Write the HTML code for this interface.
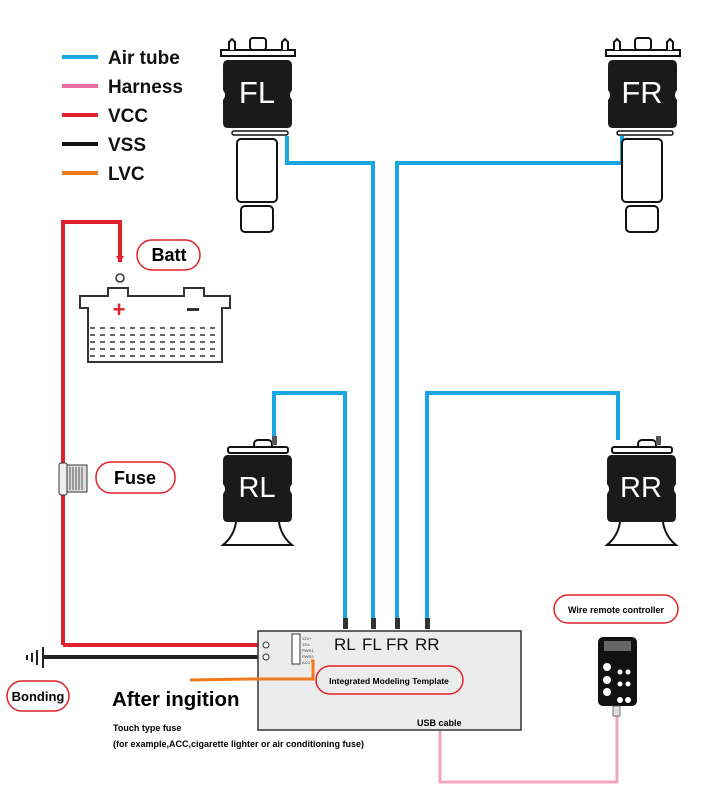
<!DOCTYPE html>
<html><head><meta charset="utf-8"><style>
html,body{margin:0;padding:0;background:#fff}
svg{display:block}
text{font-family:"Liberation Sans",Arial,sans-serif}
</style></head><body>
<svg width="703" height="799" viewBox="0 0 703 799" xmlns="http://www.w3.org/2000/svg">
<!-- legend -->
<g stroke-width="4">
<line x1="62" y1="57" x2="98" y2="57" stroke="#1aa6e0"/>
<line x1="62" y1="86" x2="98" y2="86" stroke="#ee6fa8"/>
<line x1="62" y1="115" x2="98" y2="115" stroke="#e0202a"/>
<line x1="62" y1="144" x2="98" y2="144" stroke="#111"/>
<line x1="62" y1="173" x2="98" y2="173" stroke="#f07a1a"/>
</g>
<g font-weight="bold" font-size="19" fill="#111">
<text x="108" y="64">Air tube</text><text x="108" y="93">Harness</text>
<text x="108" y="122">VCC</text><text x="108" y="151">VSS</text><text x="108" y="180">LVC</text>
</g>

<!-- air tubes -->
<g fill="none" stroke="#1aa6e0" stroke-width="4">
<path d="M287 136 V163 H373 V622"/>
<path d="M622 136 V163 H397 V622"/>
<path d="M274 440 V393 H345 V622"/>
<path d="M618 440 V393 H427 V622"/>
</g>

<!-- front struts -->
<g id="fl">
<rect x="221" y="50" width="74" height="6" fill="#fff" stroke="#111" stroke-width="2"/>
<rect x="250" y="38" width="16" height="12" rx="3" fill="#fff" stroke="#111" stroke-width="2"/>
<path d="M229 50 V42 l3 -3 l3 3 V50 M282 50 V42 l3 -3 l3 3 V50" fill="#fff" stroke="#111" stroke-width="2"/>
<path d="M228 60 H287 Q292 60 292 66 V90 Q288 95 292 100 V123 Q292 128 287 128 H228 Q223 128 223 123 V100 Q227 95 223 90 V66 Q223 60 228 60 Z" fill="#1a1a1a"/>
<rect x="232" y="131" width="56" height="4" rx="2" fill="#fff" stroke="#111" stroke-width="1.5"/>
<rect x="237" y="139" width="40" height="63" rx="4" fill="#fff" stroke="#111" stroke-width="2"/>
<rect x="241" y="206" width="32" height="26" rx="4" fill="#fff" stroke="#111" stroke-width="2"/>
</g>
<text x="257" y="103" font-size="31" fill="#fff" text-anchor="middle">FL</text>
<use href="#fl" transform="translate(385,0)"/>
<text x="642" y="103" font-size="31" fill="#fff" text-anchor="middle">FR</text>

<!-- rear bags -->
<g id="rl">
<rect x="254" y="440" width="18" height="9" rx="4" fill="#fff" stroke="#111" stroke-width="2"/>
<rect x="228" y="447" width="60" height="6" rx="2" fill="#fff" stroke="#111" stroke-width="2"/>
<rect x="272" y="436" width="5" height="9" fill="#555"/>
<path d="M228 455 H287 Q292 455 292 461 V484 Q288 489 292 494 V517 Q292 522 287 522 H228 Q223 522 223 517 V494 Q227 489 223 484 V461 Q223 455 228 455 Z" fill="#1a1a1a"/>
<path d="M236 522 Q234 536 223 545 H292 Q281 536 279 522" fill="#fff" stroke="#111" stroke-width="2"/>
</g>
<text x="257" y="497" font-size="29" fill="#fff" text-anchor="middle">RL</text>
<use href="#rl" transform="translate(384,0)"/>
<text x="641" y="497" font-size="29" fill="#fff" text-anchor="middle">RR</text>

<!-- battery -->
<path d="M63 645 V222 H120 V262" fill="none" stroke="#e0202a" stroke-width="4"/>
<path d="M116 256 h8 l-4 7 z" fill="#e0202a"/>
<circle cx="120" cy="278" r="4" fill="#fff" stroke="#333" stroke-width="1.5"/>
<path d="M80 308 V296 H108 V288 H128 V296 H184 V288 H204 V296 H230 V308 H222 V362 H88 V308 Z" fill="#fff" stroke="#333" stroke-width="2"/>
<text x="119" y="317" font-size="22" font-weight="bold" fill="#e0202a" text-anchor="middle">+</text>
<rect x="187" y="308" width="12" height="3" fill="#333"/>
<g stroke="#333" stroke-width="1.5" stroke-dasharray="5,5">
<line x1="90" y1="328" x2="220" y2="328"/><line x1="90" y1="335" x2="220" y2="335"/>
<line x1="90" y1="342" x2="220" y2="342"/><line x1="90" y1="349" x2="220" y2="349"/>
<line x1="90" y1="356" x2="220" y2="356"/>
</g>
<rect x="137" y="240" width="63" height="30" rx="15" fill="#fff" stroke="#e0202a" stroke-width="1.5"/>
<text x="169" y="261" font-size="18" font-weight="bold" text-anchor="middle">Batt</text>

<!-- fuse -->
<rect x="59" y="463" width="8" height="32" rx="2" fill="#eee" stroke="#333" stroke-width="1"/>
<path d="M67 465 H87 V492 H67 Z" fill="#ddd" stroke="#333" stroke-width="1"/>
<g stroke="#555" stroke-width="1"><line x1="70" y1="467" x2="70" y2="490"/><line x1="73" y1="467" x2="73" y2="490"/><line x1="76" y1="467" x2="76" y2="490"/><line x1="79" y1="467" x2="79" y2="490"/><line x1="82" y1="467" x2="82" y2="490"/></g>
<rect x="96" y="462" width="79" height="31" rx="15" fill="#fff" stroke="#e0202a" stroke-width="1.5"/>
<text x="135" y="484" font-size="18" font-weight="bold" text-anchor="middle">Fuse</text>

<!-- wires to module -->
<path d="M63 645 H268" stroke="#e0202a" stroke-width="4" fill="none"/>
<path d="M43 657 H268" stroke="#222" stroke-width="4" fill="none"/>
<g stroke="#222" stroke-width="2"><line x1="43" y1="647" x2="43" y2="668"/><line x1="37" y1="650" x2="37" y2="665"/><line x1="32" y1="653" x2="32" y2="662"/><line x1="27" y1="655" x2="27" y2="660"/></g>
<rect x="7" y="681" width="62" height="30" rx="15" fill="#fff" stroke="#e0202a" stroke-width="1.5"/>
<text x="38" y="701" font-size="13" font-weight="bold" text-anchor="middle">Bonding</text>

<!-- module -->
<rect x="258" y="631" width="263" height="99" fill="#ececec" stroke="#333" stroke-width="1.5"/>
<g fill="#333"><rect x="343" y="618" width="5" height="11"/><rect x="371" y="618" width="5" height="11"/><rect x="395" y="618" width="5" height="11"/><rect x="425" y="618" width="5" height="11"/></g>
<g font-size="17" fill="#111"><text x="334" y="650">RL</text><text x="362" y="650">FL</text><text x="386" y="650">FR</text><text x="415" y="650">RR</text></g>
<circle cx="266" cy="645" r="3" fill="#fff" stroke="#333"/><circle cx="266" cy="657" r="3" fill="#fff" stroke="#333"/>
<rect x="292" y="634" width="8" height="30" fill="#fff" stroke="#333"/>
<g font-size="4" fill="#333"><text x="302" y="640">12V+</text><text x="302" y="646">12V-</text><text x="302" y="652">PWR1</text><text x="302" y="658">PWR2</text><text x="302" y="664">ACC</text></g>
<path d="M311 661 H313 V679 H250 L190 680" stroke="#f07a1a" stroke-width="3" fill="none"/>
<rect x="316" y="666" width="147" height="28" rx="14" fill="#ececec" stroke="#e0202a" stroke-width="1.5"/>
<text x="389" y="684" font-size="8.5" font-weight="bold" text-anchor="middle">Integrated Modeling Template</text>
<text x="417" y="726" font-size="9" font-weight="bold">USB cable</text>

<text x="112" y="706" font-size="20.5" font-weight="bold">After ingition</text>
<text x="113" y="731" font-size="9" font-weight="bold">Touch type fuse</text>
<text x="113" y="747" font-size="9" font-weight="bold">(for example,ACC,cigarette lighter or air conditioning fuse)</text>

<!-- pink harness -->
<path d="M617 710 V782 H440 V731" stroke="#f4a6c0" stroke-width="3" fill="none"/>
<!-- controller -->
<rect x="554" y="595" width="124" height="28" rx="14" fill="#fff" stroke="#e0202a" stroke-width="1.5"/>
<text x="616" y="613" font-size="9" font-weight="bold" text-anchor="middle">Wire remote controller</text>
<rect x="598" y="637" width="39" height="69" rx="5" fill="#111"/>
<rect x="604" y="641" width="27" height="10" fill="#666"/>
<g fill="#fff"><circle cx="607" cy="667" r="4"/><circle cx="607" cy="680" r="4"/><circle cx="607" cy="692" r="4"/><circle cx="620" cy="700" r="3"/><circle cx="628" cy="700" r="3"/><circle cx="620" cy="672" r="2.5"/><circle cx="628" cy="672" r="2.5"/><circle cx="620" cy="684" r="2.5"/><circle cx="628" cy="684" r="2.5"/></g>
<rect x="613" y="706" width="7" height="10" fill="#ddd" stroke="#555" stroke-width="0.8"/>
</svg>
</body></html>
